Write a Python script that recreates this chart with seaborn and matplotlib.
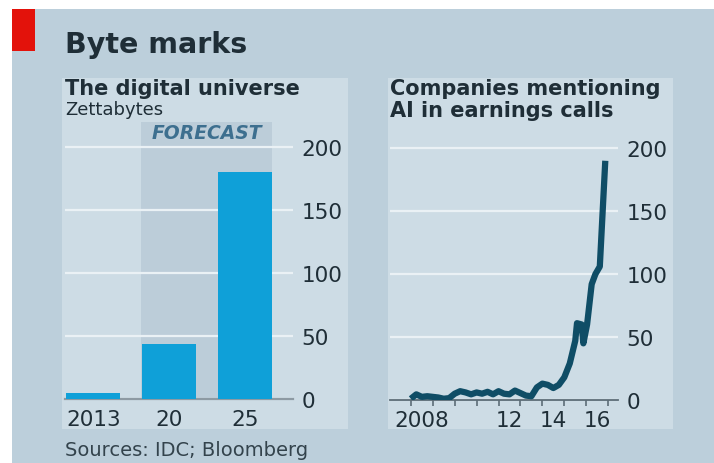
import matplotlib
matplotlib.use("Agg")
import matplotlib.pyplot as plt
import seaborn as sns
import pandas as pd
from matplotlib.patches import Rectangle

# The digital universe (IDC), zettabytes
universe_labels = ["2013", "20", "25"]
universe_zb = [4.4, 44, 180]

# Companies mentioning AI in earnings calls (Bloomberg)
ai_dates = [2008.00, 2008.25, 2008.50, 2008.75, 2009.00, 2009.25, 2009.50, 2009.75,
            2010.00, 2010.25, 2010.50, 2010.75, 2011.00, 2011.25, 2011.50, 2011.75,
            2012.00, 2012.25, 2012.50, 2012.75, 2013.00, 2013.25, 2013.50, 2013.75,
            2014.00, 2014.25, 2014.50, 2014.75, 2015.00, 2015.25, 2015.50, 2015.58,
            2015.79, 2015.87, 2016.04, 2016.25, 2016.42, 2016.62, 2016.87]
ai_counts = [1, 4.5, 2.5, 3, 2.5, 2, 1, 1.5,
             5, 7, 6, 4.5, 6, 5, 6.5, 4.5,
             7, 5, 4.5, 7.5, 5.5, 3.5, 3, 10,
             13, 12, 9.5, 12, 18, 29, 47, 61,
             60, 45, 60, 92, 100, 106, 190]

ai_label_years = [2008, 2012, 2014, 2016]
ai_label_text = ["2008", "12", "14", "16"]
y_ticks = [0, 50, 100, 150, 200]

W, H = 714, 464
BG = "#bccfdb"
PANEL = "#cddce5"
SHADE = "#bccdd9"
GRID = "#eaf1f5"
TEXT = "#1f2e37"
BAR = "#0fa0d8"
LINE = "#0f4d66"
TICK = 15.5

sns.set_theme(style="white")
plt.rcParams["font.family"] = ["DejaVu Sans"]

fig = plt.figure(figsize=(W / 100, H / 100), dpi=100)
fig.patch.set_facecolor("white")


def fx(x):
    return x / W


def fy(y):
    return 1 - y / H


def frect(x0, y0, x1, y1, color, z):
    fig.patches.append(Rectangle((fx(x0), fy(y1)), fx(x1) - fx(x0), fy(y0) - fy(y1),
                                 transform=fig.transFigure, facecolor=color,
                                 edgecolor="none", zorder=z))


# background, red flag and the two chart panels (kept beneath the axes)
frect(12, 10, W, H, BG, -3)
frect(12, 10, 35, 52, "#e3120b", -2)
frect(62, 79, 348, 430, PANEL, -2)
frect(388, 79, 673, 430, PANEL, -2)

fig.text(fx(65), fy(53), "Byte marks", fontsize=20.5, fontweight="bold",
         color=TEXT, va="baseline")
fig.text(fx(65), fy(95), "The digital universe", fontsize=15, fontweight="bold",
         color=TEXT, va="baseline")
fig.text(fx(65), fy(115), "Zettabytes", fontsize=13, color=TEXT, va="baseline")
fig.text(fx(390), fy(95), "Companies mentioning", fontsize=15, fontweight="bold",
         color=TEXT, va="baseline")
fig.text(fx(390), fy(117), "AI in earnings calls", fontsize=15, fontweight="bold",
         color=TEXT, va="baseline")
fig.text(fx(65), fy(456), "Sources: IDC; Bloomberg", fontsize=14, color="#33434c",
         va="baseline")

# ---- left: bar chart ----
axl = fig.add_axes([fx(65), fy(400), fx(293) - fx(65), fy(123) - fy(400)])
axl.set_facecolor("none")
bar_w = 0.71
axl.axvspan(1 - bar_w / 2 - 0.02, 2 + bar_w / 2, color=SHADE, lw=0, zorder=0)
df_u = pd.DataFrame({"year": universe_labels, "zb": universe_zb})
sns.barplot(data=df_u, x="year", y="zb", color=BAR, width=bar_w, saturation=1,
            linewidth=0, ax=axl, zorder=3)
axl.set_xlim(-0.373, 2.634)
axl.set_ylim(0, 220)
axl.text((1 - bar_w / 2 + 2 + bar_w / 2) / 2, 212, "FORECAST", fontsize=13.5,
         fontweight="bold", fontstyle="italic", color="#3d6f8f",
         ha="center", va="center", zorder=4)

# ---- right: line chart ----
axr = fig.add_axes([fx(390), fy(401), fx(618) - fx(390), fy(124) - fy(401)])
axr.set_facecolor("none")
df_ai = pd.DataFrame({"date": ai_dates, "count": ai_counts})
sns.lineplot(data=df_ai, x="date", y="count", color=LINE, lw=4.5,
             solid_capstyle="butt", ax=axr, zorder=3)
axr.set_xlim(2007.05, 2017.45)
axr.set_ylim(0, 220)
axr.set_xticks(range(2008, 2018))
axr.set_xticklabels([])
axr.set_xticks([y + 0.5 for y in ai_label_years], minor=True)
axr.set_xticklabels(ai_label_text, minor=True)
axr.tick_params(axis="x", which="major", bottom=True, length=4, width=1.2,
                color="#5d6d77", direction="out")
axr.tick_params(axis="x", which="minor", bottom=True, length=0, pad=7,
                labelsize=TICK, labelcolor=TEXT)

for ax in (axl, axr):
    ax.set_xlabel("")
    ax.set_ylabel("")
    ax.yaxis.tick_right()
    ax.set_yticks(y_ticks)
    ax.set_yticklabels([str(v) for v in y_ticks])
    ax.tick_params(axis="y", length=0, pad=6, labelsize=TICK, labelcolor=TEXT)
    ax.yaxis.grid(True, color=GRID, lw=1.6, zorder=1)
    ax.set_axisbelow(True)
    for s in ("top", "left", "right"):
        ax.spines[s].set_visible(False)

axl.tick_params(axis="x", length=0, pad=7, labelsize=TICK, labelcolor=TEXT)
axl.spines["bottom"].set_color("#8d9aa3")
axl.spines["bottom"].set_linewidth(1.6)
axl.spines["bottom"].set_zorder(2)
axr.spines["bottom"].set_color("#5d6d77")
axr.spines["bottom"].set_linewidth(1.3)

fig.savefig("out.png", dpi=100, facecolor=fig.get_facecolor())
